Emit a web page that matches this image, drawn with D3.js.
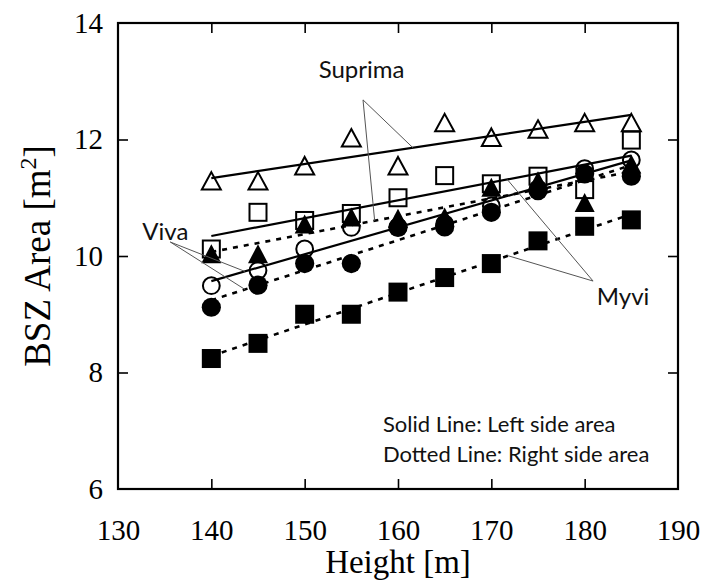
<!DOCTYPE html>
<html>
<head>
<meta charset="utf-8">
<script src="https://cdn.jsdelivr.net/npm/d3@7"></script>
<style>
  body { margin: 0; background: #fff; }
</style>
</head>
<body>
<div id="wrapper"></div>
<script>
// heights on the x axis
const heights = [140, 145, 150, 155, 160, 165, 170, 175, 180, 185];

// BSZ areas
const suprimaLeft  = [11.29, 11.29, 11.55, 12.03, 11.55, 12.29, 12.04, 12.18, 12.29, 12.29]; // open triangle
const suprimaRight = [10.04, 10.04, 10.55, 10.67, 10.65, 10.67, 11.18, 11.29, 10.92, 11.58]; // filled triangle
const myviLeft     = [10.12, 10.75, 10.61, 10.73, 11.00, 11.38, 11.24, 11.37, 11.14, 11.99]; // open square
const myviRight    = [8.24, 8.50, 9.00, 9.00, 9.38, 9.63, 9.87, 10.26, 10.51, 10.62];        // filled square
const vivaLeft     = [9.49, 9.75, 10.12, 10.49, 10.50, 10.55, 10.86, 11.15, 11.50, 11.65];   // open circle
const vivaRight    = [9.12, 9.50, 9.87, 9.87, 10.49, 10.50, 10.75, 11.12, 11.41, 11.37];     // filled circle

const xTicks = [130, 140, 150, 160, 170, 180, 190];
const yTicks = [6, 8, 10, 12, 14];

const legendLines = ["Solid Line: Left side area", "Dotted Line: Right side area"];

const series = [
  { name: "Suprima", side: "right", shape: "triangle", filled: true,  values: suprimaRight },
  { name: "Myvi",    side: "right", shape: "square",   filled: true,  values: myviRight },
  { name: "Viva",    side: "right", shape: "circle",   filled: true,  values: vivaRight },
  { name: "Suprima", side: "left",  shape: "triangle", filled: false, values: suprimaLeft },
  { name: "Myvi",    side: "left",  shape: "square",   filled: false, values: myviLeft },
  { name: "Viva",    side: "left",  shape: "circle",   filled: false, values: vivaLeft },
];

// label text position and the points on the fit lines that the pointers touch (data units)
const callouts = [
  { label: "Suprima", at: [156.25, 12.68], textAt: [151.5, 13.06], targets: [["Suprima", "right", 157.5], ["Suprima", "left", 161.6]] },
  { label: "Viva",    at: [135.6, 10.24],  textAt: [132.6, 10.27], targets: [["Viva", "left", 143.6], ["Viva", "right", 143.6]] },
  { label: "Myvi",    at: [180.9, 9.57],   textAt: [181.3, 9.16],  targets: [["Myvi", "right", 171.8], ["Myvi", "left", 171.7]] },
];

let dimensions = {
  width: 705,
  height: 583,
  margin: { top: 23, right: 27, bottom: 94, left: 118 },
};
dimensions.boundedWidth = dimensions.width - dimensions.margin.left - dimensions.margin.right;
dimensions.boundedHeight = dimensions.height - dimensions.margin.top - dimensions.margin.bottom;

const svg = d3.select("#wrapper")
  .append("svg")
  .attr("width", dimensions.width)
  .attr("height", dimensions.height);

const bounds = svg.append("g")
  .attr("transform", `translate(${dimensions.margin.left},${dimensions.margin.top})`);

const xScale = d3.scaleLinear().domain([130, 190]).range([0, dimensions.boundedWidth]);
const yScale = d3.scaleLinear().domain([6, 14]).range([dimensions.boundedHeight, 0]);

// least squares trend line for a series
function fit(values) {
  const mx = d3.mean(heights), my = d3.mean(values);
  let sxy = 0, sxx = 0;
  heights.forEach((h, i) => { sxy += (h - mx) * (values[i] - my); sxx += (h - mx) * (h - mx); });
  const slope = sxy / sxx;
  return (h) => my + slope * (h - mx);
}
series.forEach((s) => { s.fit = fit(s.values); });

// inward ticks on all four sides
const tickLen = 10;
const innerX = xTicks.slice(1, -1);
const innerY = yTicks.slice(1, -1);
bounds.append("g")
  .attr("transform", `translate(0,${dimensions.boundedHeight})`)
  .call(d3.axisBottom(xScale).tickValues(innerX).tickSizeInner(-tickLen).tickSizeOuter(0).tickFormat(""));
bounds.append("g")
  .call(d3.axisTop(xScale).tickValues(innerX).tickSizeInner(-tickLen).tickSizeOuter(0).tickFormat(""));
bounds.append("g")
  .call(d3.axisLeft(yScale).tickValues(innerY).tickSizeInner(-tickLen).tickSizeOuter(0).tickFormat(""));
bounds.append("g")
  .attr("transform", `translate(${dimensions.boundedWidth},0)`)
  .call(d3.axisRight(yScale).tickValues(innerY).tickSizeInner(-tickLen).tickSizeOuter(0).tickFormat(""));
bounds.selectAll(".domain").remove();
bounds.selectAll(".tick line").attr("stroke", "#000").attr("stroke-width", 1.6);

// tick labels
const xLabels = bounds.append("g")
  .attr("transform", `translate(0,${dimensions.boundedHeight})`)
  .call(d3.axisBottom(xScale).tickValues(xTicks).tickSize(0).tickPadding(30).tickFormat(d3.format("d")));
const yLabels = bounds.append("g")
  .call(d3.axisLeft(yScale).tickValues(yTicks).tickSize(0).tickPadding(15).tickFormat(d3.format("d")));
[xLabels, yLabels].forEach((g) => {
  g.select(".domain").remove();
  g.selectAll("text")
    .attr("fill", "#000")
    .style("font-family", "'Liberation Serif', 'Times New Roman', serif")
    .style("font-size", "29px");
});

// frame
bounds.append("rect")
  .attr("width", dimensions.boundedWidth)
  .attr("height", dimensions.boundedHeight)
  .attr("fill", "none")
  .attr("stroke", "#000")
  .attr("stroke-width", 2.2);

// markers
function trianglePath(w, h) {
  return `M0,${-h / 2}L${w / 2},${h / 2}L${-w / 2},${h / 2}Z`;
}
series.forEach((s) => {
  const g = bounds.append("g")
    .attr("fill", s.filled ? "#000" : "none")
    .attr("stroke", "#000")
    .attr("stroke-width", s.filled ? 0 : 2);
  const pts = g.selectAll("g")
    .data(heights.map((h, i) => ({ h: h, v: s.values[i] })))
    .enter()
    .append("g")
    .attr("transform", (d) => `translate(${xScale(d.h)},${yScale(d.v)})`);
  if (s.shape === "triangle") {
    pts.append("path").attr("d", s.filled ? trianglePath(20, 19) : trianglePath(19, 17.5));
  } else if (s.shape === "square") {
    const a = s.filled ? 19 : 17;
    pts.append("rect").attr("x", -a / 2).attr("y", -a / 2).attr("width", a).attr("height", a);
  } else {
    pts.append("circle").attr("r", s.filled ? 9.6 : 8.4);
  }
});

// trend lines
const lineGenerator = d3.line()
  .x((d) => xScale(d[0]))
  .y((d) => yScale(d[1]));
series.forEach((s) => {
  const ends = d3.extent(heights);
  bounds.append("path")
    .attr("d", lineGenerator(ends.map((h) => [h, s.fit(h)])))
    .attr("fill", "none")
    .attr("stroke", "#000")
    .attr("stroke-width", s.side === "left" ? 2.2 : 2.6)
    .attr("stroke-dasharray", s.side === "left" ? null : "5,6");
});

// callouts
const sansFont = "Lato, 'Noto Sans', sans-serif";
callouts.forEach((c) => {
  c.targets.forEach(([name, side, h]) => {
    const s = series.find((d) => d.name === name && d.side === side);
    bounds.append("line")
      .attr("x1", xScale(c.at[0]))
      .attr("y1", yScale(c.at[1]))
      .attr("x2", xScale(h))
      .attr("y2", yScale(s.fit(h)))
      .attr("stroke", "#555")
      .attr("stroke-width", 1);
  });
  bounds.append("text")
    .attr("x", xScale(c.textAt[0]))
    .attr("y", yScale(c.textAt[1]))
    .text(c.label)
    .style("font-family", sansFont)
    .style("font-size", "24px")
    .attr("fill", "#111");
});

// legend notes
bounds.append("g")
  .selectAll("text")
  .data(legendLines)
  .enter()
  .append("text")
  .attr("x", 265)
  .attr("y", (d, i) => 409 + i * 30)
  .text((d) => d)
  .style("font-family", sansFont)
  .style("font-size", "22px")
  .attr("fill", "#111");

// axis titles
const serif = "'Liberation Serif', 'Times New Roman', serif";
svg.append("text")
  .attr("x", dimensions.margin.left + dimensions.boundedWidth / 2)
  .attr("y", 573)
  .attr("text-anchor", "middle")
  .style("font-family", serif)
  .style("font-size", "33px")
  .text("Height [m]");

const yTitle = svg.append("text")
  .attr("transform", `translate(50,${dimensions.margin.top + dimensions.boundedHeight / 2}) rotate(-90)`)
  .attr("text-anchor", "middle")
  .style("font-family", serif)
  .style("font-size", "37px");
yTitle.append("tspan").text("BSZ Area [m");
yTitle.append("tspan").attr("dy", -14).style("font-size", "24px").text("2");
yTitle.append("tspan").attr("dy", 14).text("]");
</script>
</body>
</html>
